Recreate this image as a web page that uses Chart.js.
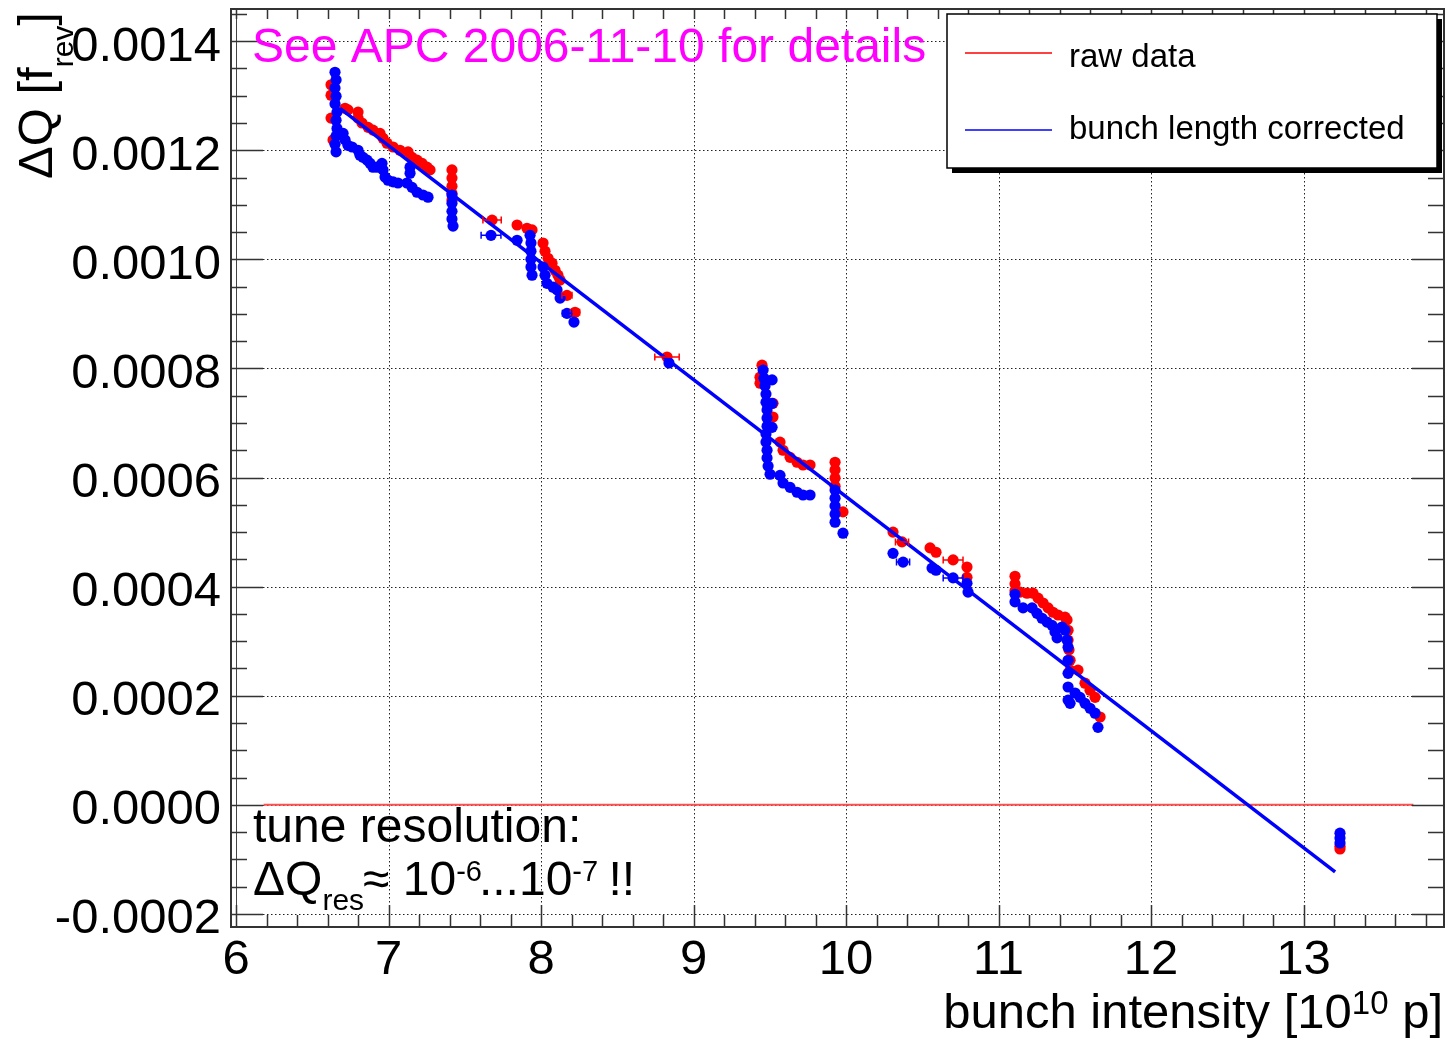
<!DOCTYPE html>
<html>
<head>
<meta charset="utf-8">
<script src="https://cdn.jsdelivr.net/npm/chart.js@4.4.1/dist/chart.umd.min.js"></script>
<style>
  html, body { margin: 0; padding: 0; background: #fff; }
  #wrap { width: 1453px; height: 1048px; }
</style>
</head>
<body>
<div id="wrap"><canvas id="tuneChart" width="1453" height="1048"></canvas></div>
<script>
const FONT = '"Liberation Sans", Arial, Helvetica, sans-serif';

const xTicks = [6, 7, 8, 9, 10, 11, 12, 13];
const yTicks = [-0.0002, 0, 0.0002, 0.0004, 0.0006, 0.0008, 0.0010, 0.0012, 0.0014];
const xRange = [5.967, 13.921];
const yRange = [-0.000224, 0.001459];

// raw data (red)
const rawX = [6.623, 6.623, 6.623, 6.636, 6.715, 6.734, 6.800, 6.800, 6.826, 6.866,
  6.898, 6.944, 6.964, 6.990, 7.030, 7.075, 7.128, 7.154, 7.187, 7.220,
  7.252, 7.272, 7.416, 7.416, 7.416, 7.416, 7.416, 7.679, 7.843, 7.908,
  7.941, 8.013, 8.026, 8.046, 8.072, 8.092, 8.111, 8.125, 8.170, 8.223,
  8.826, 9.449, 9.436, 9.436, 9.521, 9.521, 9.567, 9.587, 9.633, 9.679,
  9.718, 9.764, 9.928, 9.928, 9.928, 9.928, 9.980, 10.308, 10.367, 10.551,
  10.590, 10.702, 10.793, 10.793, 11.108, 11.108, 11.108, 11.141, 11.187, 11.226,
  11.259, 11.292, 11.325, 11.357, 11.390, 11.436, 11.449, 11.456, 11.456, 11.462,
  11.469, 11.469, 11.521, 11.567, 11.600, 11.633, 11.666, 13.239, 13.239];
const rawY = [0.001320, 0.001301, 0.001259, 0.001219, 0.001277, 0.001274, 0.001270, 0.001259, 0.001250, 0.001242,
  0.001237, 0.001231, 0.001222, 0.001213, 0.001206, 0.001200, 0.001197, 0.001187, 0.001182, 0.001176,
  0.001169, 0.001164, 0.001164, 0.001149, 0.001134, 0.001121, 0.001109, 0.001072, 0.001063, 0.001057,
  0.001054, 0.001030, 0.001015, 0.001002, 0.000993, 0.000980, 0.000971, 0.000962, 0.000934, 0.000903,
  0.000821, 0.000806, 0.000784, 0.000773, 0.000736, 0.000711, 0.000665, 0.000650, 0.000637, 0.000628,
  0.000623, 0.000623, 0.000628, 0.000614, 0.000599, 0.000584, 0.000537, 0.000500, 0.000482, 0.000471,
  0.000463, 0.000449, 0.000436, 0.000417, 0.000419, 0.000405, 0.000392, 0.000390, 0.000388, 0.000388,
  0.000379, 0.000370, 0.000361, 0.000353, 0.000348, 0.000344, 0.000339, 0.000320, 0.000302, 0.000284,
  0.000265, 0.000247, 0.000247, 0.000223, 0.000210, 0.000197, 0.000161, -0.000076, -0.000081];

// bunch length corrected (blue)
const corrX = [6.649, 6.656, 6.649, 6.656, 6.649, 6.662, 6.656, 6.662, 6.656, 6.649,
  6.656, 6.702, 6.715, 6.734, 6.761, 6.800, 6.813, 6.833, 6.859, 6.879,
  6.898, 6.925, 6.957, 6.964, 6.977, 6.997, 7.030, 7.062, 7.141, 7.141,
  7.121, 7.154, 7.187, 7.226, 7.259, 7.416, 7.416, 7.416, 7.416, 7.423,
  7.672, 7.843, 7.928, 7.934, 7.934, 7.934, 7.934, 7.941, 8.013, 8.026,
  8.039, 8.079, 8.105, 8.125, 8.170, 8.216, 8.839, 9.456, 9.462, 9.469,
  9.475, 9.475, 9.482, 9.482, 9.482, 9.475, 9.475, 9.482, 9.482, 9.489,
  9.502, 9.515, 9.515, 9.515, 9.567, 9.587, 9.633, 9.679, 9.718, 9.764,
  9.928, 9.928, 9.928, 9.928, 9.928, 9.980, 10.308, 10.374, 10.564, 10.590,
  10.702, 10.793, 10.800, 11.108, 11.108, 11.161, 11.220, 11.252, 11.285, 11.318,
  11.351, 11.370, 11.384, 11.416, 11.436, 11.449, 11.456, 11.456, 11.456, 11.456,
  11.456, 11.469, 11.502, 11.534, 11.567, 11.600, 11.633, 11.652, 13.239, 13.239, 13.239];
const corrY = [0.001343, 0.001329, 0.001314, 0.001299, 0.001285, 0.001270, 0.001255, 0.001240, 0.001226, 0.001211,
  0.001197, 0.001231, 0.001219, 0.001209, 0.001206, 0.001200, 0.001191, 0.001187, 0.001182, 0.001176,
  0.001169, 0.001169, 0.001176, 0.001164, 0.001151, 0.001145, 0.001142, 0.001140, 0.001169, 0.001158,
  0.001140, 0.001132, 0.001123, 0.001118, 0.001114, 0.001118, 0.001103, 0.001088, 0.001074, 0.001061,
  0.001044, 0.001035, 0.001044, 0.001030, 0.001015, 0.001000, 0.000986, 0.000971, 0.000986, 0.000971,
  0.000956, 0.000949, 0.000944, 0.000929, 0.000901, 0.000885, 0.000810, 0.000797, 0.000782, 0.000768,
  0.000753, 0.000738, 0.000724, 0.000709, 0.000694, 0.000680, 0.000665, 0.000650, 0.000636, 0.000621,
  0.000606, 0.000779, 0.000736, 0.000692, 0.000604, 0.000590, 0.000582, 0.000573, 0.000568, 0.000568,
  0.000577, 0.000562, 0.000548, 0.000533, 0.000518, 0.000498, 0.000461, 0.000445, 0.000434, 0.000430,
  0.000416, 0.000406, 0.000390, 0.000386, 0.000372, 0.000361, 0.000361, 0.000351, 0.000342, 0.000335,
  0.000329, 0.000317, 0.000306, 0.000326, 0.000320, 0.000302, 0.000289, 0.000265, 0.000241, 0.000216,
  0.000192, 0.000186, 0.000205, 0.000197, 0.000186, 0.000177, 0.000168, 0.000142, -0.000052, -0.000061, -0.000070];

// points with visible horizontal error bars
const rawErrX = [7.679, 8.170, 8.223, 8.826, 10.367, 10.702];
const rawErrY = [0.001072, 0.000934, 0.000903, 0.000821, 0.000482, 0.000449];
const rawErrDx = [0.06, 0.033, 0.03, 0.08, 0.043, 0.065];
const corrErrX = [7.672, 8.170, 10.374, 10.702];
const corrErrY = [0.001044, 0.000901, 0.000445, 0.000416];
const corrErrDx = [0.065, 0.03, 0.043, 0.065];

// linear fit and zero reference line
const fitX = [6.682, 13.207];
const fitY = [0.001277, -0.000123];
const zeroX = [6.18, 13.72];
const zeroY = [0, 0];

const toPts = (xs, ys) => xs.map((x, i) => ({ x, y: ys[i] }));

function drawRich(ctx, x, y, parts) {
  parts.forEach(p => {
    ctx.font = `${p.size}px ${FONT}`;
    ctx.fillText(p.t, x, y + (p.dy || 0));
    x += ctx.measureText(p.t).width + (p.gap || 0);
  });
  return x;
}
function richWidth(ctx, parts) {
  let w = 0;
  parts.forEach(p => { ctx.font = `${p.size}px ${FONT}`; w += ctx.measureText(p.t).width + (p.gap || 0); });
  return w;
}

const rootFrame = {
  id: 'rootFrame',
  beforeDatasetsDraw(chart) {
    const { ctx, chartArea: a, scales: { x, y } } = chart;
    ctx.save();
    ctx.strokeStyle = '#222';
    ctx.lineWidth = 1;
    ctx.setLineDash([1.5, 2.5]);
    ctx.beginPath();
    xTicks.forEach(v => {
      const px = Math.round(x.getPixelForValue(v)) + 0.5;
      ctx.moveTo(px, a.top); ctx.lineTo(px, a.bottom);
    });
    yTicks.forEach(v => {
      const py = Math.round(y.getPixelForValue(v)) + 0.5;
      ctx.moveTo(a.left, py); ctx.lineTo(a.right, py);
    });
    ctx.stroke();
    ctx.setLineDash([]);
    ctx.strokeStyle = '#444';
    ctx.beginPath();
    const x6 = Math.round(x.getPixelForValue(6)) + 0.5;
    ctx.moveTo(x6, a.top); ctx.lineTo(x6, a.bottom);
    ctx.stroke();
    ctx.restore();
  },
  afterDatasetsDraw(chart) {
    const { ctx, chartArea: a, scales: { x, y } } = chart;
    ctx.save();
    // horizontal error bars
    const bars = (xs, ys, dxs, col) => {
      ctx.strokeStyle = col;
      ctx.lineWidth = 1.5;
      ctx.beginPath();
      xs.forEach((v, i) => {
        const l = x.getPixelForValue(v - dxs[i]);
        const r = x.getPixelForValue(v + dxs[i]);
        const py = y.getPixelForValue(ys[i]);
        ctx.moveTo(l, py); ctx.lineTo(r, py);
        ctx.moveTo(l, py - 3.5); ctx.lineTo(l, py + 3.5);
        ctx.moveTo(r, py - 3.5); ctx.lineTo(r, py + 3.5);
      });
      ctx.stroke();
    };
    bars(rawErrX, rawErrY, rawErrDx, '#ff0000');
    bars(corrErrX, corrErrY, corrErrDx, '#0000ff');

    // frame
    ctx.strokeStyle = '#333';
    ctx.lineWidth = 2;
    ctx.strokeRect(a.left, a.top, a.right - a.left, a.bottom - a.top);

    // tick marks on all four sides
    ctx.lineWidth = 1.5;
    ctx.beginPath();
    for (let k = 0; k <= 39; k++) {
      const v = 6 + k * 0.2;
      if (v > xRange[1]) break;
      const px = Math.round(x.getPixelForValue(v)) + 0.5;
      const major = k % 5 === 0;
      ctx.moveTo(px, a.bottom); ctx.lineTo(px, a.bottom - (major ? 22 : 12));
      ctx.moveTo(px, a.top); ctx.lineTo(px, a.top + 10);
    }
    for (let k = 0; k <= 33; k++) {
      const v = -0.0002 + k * 0.00005;
      if (v > yRange[1]) break;
      const py = Math.round(y.getPixelForValue(v)) + 0.5;
      const len = k % 4 === 0 ? 32 : 16;
      ctx.moveTo(a.left, py); ctx.lineTo(a.left + len, py);
      ctx.moveTo(a.right, py); ctx.lineTo(a.right - len, py);
    }
    ctx.stroke();
    ctx.restore();
  },
  afterDraw(chart) {
    const { ctx } = chart;
    ctx.save();
    ctx.textBaseline = 'alphabetic';
    ctx.textAlign = 'left';

    // note at the top
    ctx.fillStyle = '#ff00ff';
    ctx.font = `48px ${FONT}`;
    ctx.fillText('See APC 2006-11-10 for details', 252, 62);

    // tune resolution note
    ctx.fillStyle = '#000';
    ctx.fillText('tune resolution:', 253, 842);
    drawRich(ctx, 253, 895, [
      { t: '\u0394Q', size: 48 },
      { t: 'res', size: 30, dy: 15, gap: -1 },
      { t: '\u2248 10', size: 48 },
      { t: '-6', size: 29, dy: -14, gap: -3 },
      { t: '...10', size: 48 },
      { t: '-7', size: 29, dy: -14, gap: -3 },
      { t: ' !!', size: 48 }
    ]);

    // x axis title
    const xTitle = [
      { t: 'bunch intensity [10', size: 49 },
      { t: '10', size: 33, dy: -14 },
      { t: ' p]', size: 49 }
    ];
    drawRich(ctx, 1443 - richWidth(ctx, xTitle), 1028, xTitle);

    // y axis title
    ctx.save();
    ctx.translate(52, 179);
    ctx.rotate(-Math.PI / 2);
    drawRich(ctx, 0, 0, [
      { t: '\u0394Q [f', size: 49 },
      { t: 'rev', size: 30, dy: 21 },
      { t: ']', size: 49 }
    ]);
    ctx.restore();

    // legend box with shadow
    const L = { x: 947, y: 14, w: 490, h: 154 };
    ctx.fillStyle = '#000';
    ctx.fillRect(L.x + 5, L.y + 5, L.w, L.h);
    ctx.fillStyle = '#fff';
    ctx.fillRect(L.x, L.y, L.w, L.h);
    ctx.strokeStyle = '#000';
    ctx.lineWidth = 1.5;
    ctx.strokeRect(L.x, L.y, L.w, L.h);
    const entries = [['raw data', '#ff0000', 53, 67], ['bunch length corrected', '#0000ff', 130, 139]];
    entries.forEach(([label, col, ly, by]) => {
      ctx.strokeStyle = col;
      ctx.lineWidth = 1.5;
      ctx.beginPath(); ctx.moveTo(965, ly); ctx.lineTo(1052, ly); ctx.stroke();
      ctx.fillStyle = '#000';
      ctx.font = `33px ${FONT}`;
      ctx.fillText(label, 1069, by);
    });
    ctx.restore();
  }
};

new Chart(document.getElementById('tuneChart'), {
  type: 'scatter',
  data: {
    datasets: [
      {
        label: 'fit',
        data: toPts(fitX, fitY),
        showLine: true,
        borderColor: '#0000ff',
        borderWidth: 3.5,
        pointRadius: 0,
        order: 0
      },
      {
        label: 'bunch length corrected',
        data: toPts(corrX, corrY),
        backgroundColor: '#0000ff',
        borderWidth: 0,
        pointRadius: 5.6,
        order: 1
      },
      {
        label: 'raw data',
        data: toPts(rawX, rawY),
        backgroundColor: '#ff0000',
        borderWidth: 0,
        pointRadius: 5.6,
        order: 2
      },
      {
        label: 'zero',
        data: toPts(zeroX, zeroY),
        showLine: true,
        borderColor: '#ff5050',
        borderWidth: 2,
        pointRadius: 0,
        order: 3
      }
    ]
  },
  options: {
    responsive: false,
    animation: false,
    events: [],
    layout: { padding: { top: 9, right: 9, left: 0, bottom: 0 } },
    plugins: { legend: { display: false }, tooltip: { enabled: false } },
    scales: {
      x: {
        type: 'linear',
        min: xRange[0],
        max: xRange[1],
        afterBuildTicks: s => { s.ticks = xTicks.map(v => ({ value: v })); },
        afterFit: s => { s.height = 121; s.paddingLeft = 0; s.paddingRight = 0; },
        grid: { display: false, drawTicks: false },
        border: { display: false },
        ticks: {
          autoSkip: false,
          maxRotation: 0,
          padding: 4,
          color: '#000',
          font: { family: FONT, size: 49 },
          callback: v => String(v)
        }
      },
      y: {
        type: 'linear',
        min: yRange[0],
        max: yRange[1],
        afterBuildTicks: s => { s.ticks = yTicks.map(v => ({ value: v })); },
        afterFit: s => { s.width = 231; s.paddingTop = 0; s.paddingBottom = 0; },
        grid: { display: false, drawTicks: false },
        border: { display: false },
        ticks: {
          autoSkip: false,
          padding: 10,
          labelOffset: 6,
          color: '#000',
          font: { family: FONT, size: 49 },
          callback: v => v.toFixed(4)
        }
      }
    }
  },
  plugins: [rootFrame]
});
</script>
</body>
</html>
